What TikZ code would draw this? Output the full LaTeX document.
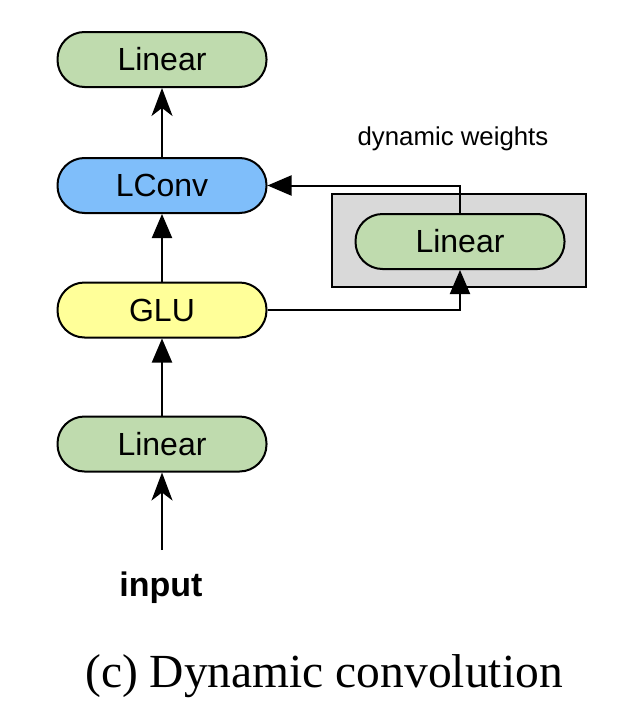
\documentclass[tikz,border=0pt]{standalone}
\usepackage{fontspec}
\setmainfont{Liberation Serif}
\newfontfamily\labfont{Liberation Sans}
\usetikzlibrary{arrows.meta}
\definecolor{lingreen}{RGB}{191,219,174}
\definecolor{convblue}{RGB}{127,190,250}
\definecolor{gluyellow}{RGB}{255,255,153}
\definecolor{boxgray}{RGB}{217,217,217}
\tikzset{
  pill/.style={draw=black, line width=2pt, rounded corners=27pt, minimum width=209pt, minimum height=55pt, inner sep=0pt, font=\labfont\fontsize{32}{38}\selectfont},
  tri/.style={line width=2pt, -{Triangle[length=24pt,width=20pt]}},
  stl/.style={line width=2pt, -{Stealth[length=28pt,width=21pt,inset=8pt]}},
}
\begin{document}
\begin{tikzpicture}[x=1pt,y=-1pt]
\useasboundingbox (0,0) rectangle (620,728);
\node[pill, fill=lingreen] (lintop) at (162,59.5) {Linear};
\node[pill, fill=convblue] (lconv) at (162,185.5) {LConv};
\node[pill, fill=gluyellow] (glu) at (162,310) {GLU};
\node[pill, fill=lingreen] (linbot) at (162,444) {Linear};
\node[font=\labfont\bfseries\fontsize{34}{40}\selectfont] (input) at (161,588) {input};
\coordinate (instart) at (162,550);
\node[draw=black, line width=2pt, fill=boxgray, minimum width=254pt, minimum height=93pt, inner sep=0pt] (gbox) at (459,240.5) {};
\node[pill, fill=lingreen] (dlin) at (460,241.5) {Linear};
\node[font=\labfont\fontsize{25.8}{30}\selectfont] (dynw) at (453,139) {dynamic weights};
\draw[stl] (lconv.north) -- (lintop.south);
\draw[tri] (glu.north) -- (lconv.south);
\draw[tri] (linbot.north) -- (glu.south);
\draw[stl] (instart) -- (linbot.south);
\draw[tri] (dlin.north) |- (lconv.east);
\draw[tri] (glu.east) -| (dlin.south);
\node[font=\fontsize{47.5}{56}\selectfont] (caption) at (324,676) {(c) Dynamic convolution};
\end{tikzpicture}
\end{document}
